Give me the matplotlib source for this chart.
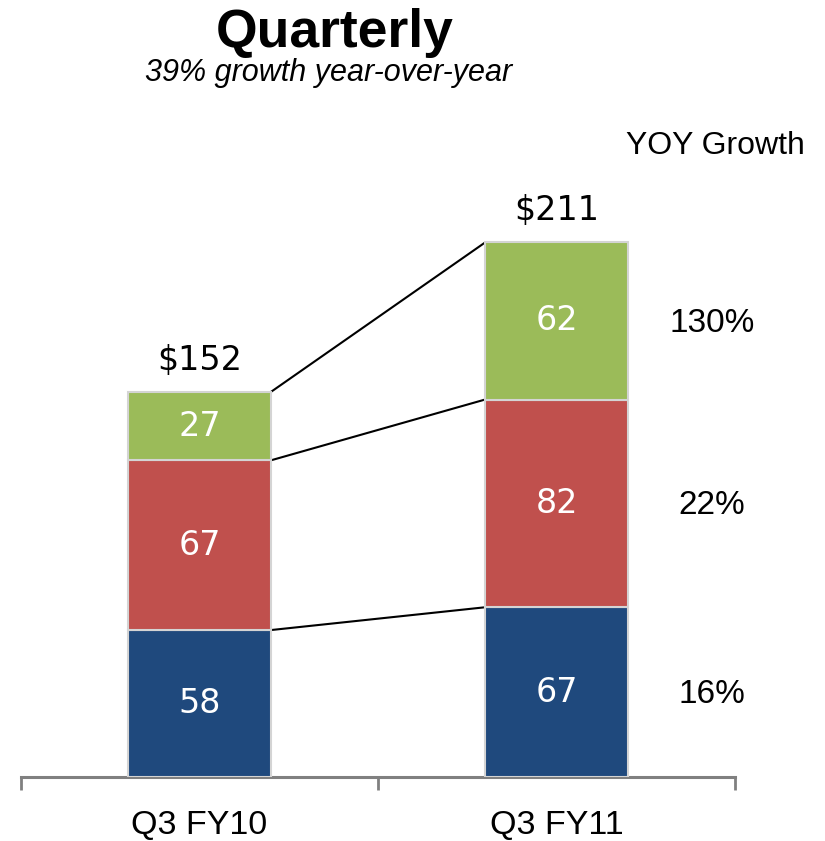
import matplotlib.pyplot as plt

plt.rcParams["font.family"] = ["Liberation Sans", "DejaVu Sans"]

# data
quarters = ["Q3 FY10", "Q3 FY11"]
blue_vals = [58, 67]
red_vals = [67, 82]
green_vals = [27, 62]
totals = ["$152", "$211"]
growth = ["16%", "22%", "130%"]

colors = ["#1F497D", "#C0504D", "#9BBB59"]

fig = plt.figure(figsize=(8.25, 8.41), dpi=100)
ax = fig.add_axes([21 / 825, 64 / 841, 714 / 825, 608 / 841])
ax.set_xlim(0, 2)
ax.set_ylim(0, 240)

xs = [0.5, 1.5]
w = 0.4
segments = [blue_vals, red_vals, green_vals]
bottoms = [0, 0]
tops = []
for vals, c in zip(segments, colors):
    ax.bar(xs, vals, width=w, bottom=bottoms, color=c,
           edgecolor="#D4D4D4", linewidth=1.5, zorder=3)
    for i in range(2):
        ax.text(xs[i], bottoms[i] + vals[i] / 2, str(vals[i]), color="white",
                fontsize=24, family="DejaVu Sans", ha="center", va="center",
                zorder=4)
    bottoms = [b + v for b, v in zip(bottoms, vals)]
    tops.append(list(bottoms))

# connector lines between segment tops
for t in tops:
    ax.plot([0.7, 1.3], [t[0], t[1]], color="black", lw=1.5, zorder=2)

# totals
for i in range(2):
    ax.text(xs[i], tops[2][i] + 6, totals[i], fontsize=24, family="DejaVu Sans",
            ha="center", va="bottom", color="black")

# YOY growth column
lower = [0] + [t[1] for t in tops[:-1]]
for g, lo, hi in zip(growth, lower, [t[1] for t in tops]):
    ax.text(1.935, (lo + hi) / 2 - 1, g, fontsize=24, ha="center", va="center")
ax.text(1.945, 249, "YOY Growth", fontsize=23, ha="center", va="center")

# axis
for s in ["top", "right", "left"]:
    ax.spines[s].set_visible(False)
ax.spines["bottom"].set_color("#808080")
ax.spines["bottom"].set_linewidth(2.2)
ax.set_yticks([])
ax.set_xticks([0, 1, 2])
ax.set_xticklabels([])
ax.tick_params(axis="x", direction="out", length=9, width=2, color="#808080")
for i in range(2):
    ax.text(xs[i], -19, quarters[i], fontsize=24.5, ha="center", va="center")

fig.text(335 / 825, 1 - 33 / 841, "Quarterly", fontsize=38.5, fontweight="bold",
         ha="center", va="center")
fig.text(329 / 825, 1 - 73 / 841, "39% growth year-over-year", fontsize=22,
         style="italic", ha="center", va="center")

fig.savefig("out.png", dpi=100)
